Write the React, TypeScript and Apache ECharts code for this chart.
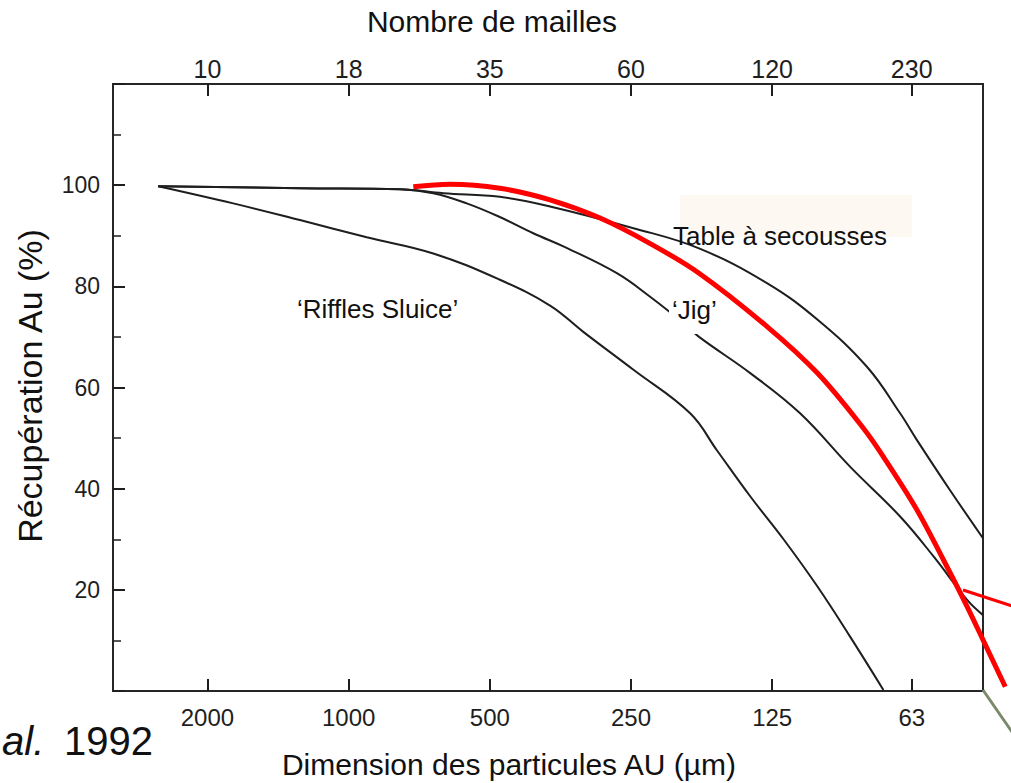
import React, { useEffect, useRef } from "react";
import * as echarts from "echarts";

// Particle size axis (µm), drawn on a log2 scale, reversed (coarse on the left)
const refSize = 2000;
const axisMinSize = 3180;
const axisMaxSize = 44.4;
const sizeTicks = [2000, 1000, 500, 250, 125, 63];
const sizeTickLabels = ["2000", "1000", "500", "250", "125", "63"];
const meshTickLabels = ["10", "18", "35", "60", "120", "230"];

// Recovery (%) axis
const recoveryMin = 0;
const recoveryMax = 120;
const recoveryStep = 20;

// 'Riffles Sluice'
const rifflesSize = [2547, 1762, 1270, 915, 660, 476, 372, 316, 247, 187, 164, 139, 118, 100, 85.2, 72.4];
const rifflesRec = [99.8, 96.4, 93.1, 89.7, 86.5, 81.3, 76.2, 71.0, 63.5, 54.9, 47.6, 38.4, 29.9, 20.6, 10.7, 0.2];

// 'Jig'
const jigSize = [2547, 1270, 777, 660, 560, 476, 404, 343, 268, 228, 193, 179, 139, 109, 85.2, 66.7, 56.6, 48.0, 44.4];
const jigRec = [99.8, 99.4, 99.2, 98.4, 96.4, 93.7, 90.5, 87.6, 82.6, 78.0, 72.7, 70.0, 62.8, 54.9, 44.3, 34.5, 26.6, 18.0, 15.0];

// Table à secousses
const tableSize = [2547, 1270, 777, 628, 476, 372, 247, 179, 128, 100, 78.5, 66.7, 61.4, 52.2, 44.4];
const tableRec = [99.8, 99.4, 99.2, 98.4, 97.7, 95.8, 91.5, 87.5, 80.6, 73.4, 64.1, 54.9, 49.6, 39.7, 30.2];

// Red overlay curve (runs past the right edge of the frame)
const redSize = [728, 608, 476, 372, 291, 228, 179, 128, 100, 79.8, 72.4, 61.4, 53.9, 48.0, 44.4, 39.8];
const redRec = [99.7, 100.2, 99.4, 97.1, 93.5, 88.5, 82.6, 72.0, 62.8, 51.9, 46.3, 35.8, 25.9, 16.7, 10.1, 0.85];

const toAxis = (s: number) => Math.log2(refSize / s);
const pairs = (sizes: number[], recs: number[]) => sizes.map((s, i) => [toAxis(s), recs[i]]);

const FONT = "'Liberation Sans', Arial, Helvetica, sans-serif";
const INK = "#1e1e1e";

export default function App() {
  const ref = useRef<HTMLDivElement>(null);

  useEffect(() => {
    if (!ref.current) return;
    const chart = echarts.init(ref.current, undefined, { renderer: "svg" });
    const tickPos = sizeTicks.map(toAxis);
    const labelFor = (labels: string[]) => (v: number) => {
      let best = 0;
      tickPos.forEach((p, i) => {
        if (Math.abs(p - v) < Math.abs(tickPos[best] - v)) best = i;
      });
      return labels[best];
    };

    const gridLeft = 113;
    const gridRight = 28;
    const chartW = 1011;
    const plotW = chartW - gridLeft - gridRight;
    const xMin = toAxis(axisMinSize);
    const xMax = toAxis(axisMaxSize);
    // overlay grid reaching the page edge, same scale, for the red curve overflow
    const xMaxWide = xMin + ((xMax - xMin) * (chartW - gridLeft)) / plotW;

    const baseX = {
      type: "value",
      gridIndex: 0,
      min: xMin,
      max: xMax,
      axisLine: { show: false, onZero: false },
      splitLine: { show: false },
      axisTick: { show: true, inside: true, length: 12, customValues: tickPos, lineStyle: { color: INK, width: 2 } },
    };

    const lineSeries = (name: string, data: number[][]) => ({
      name,
      type: "line",
      xAxisIndex: 0,
      yAxisIndex: 0,
      data,
      showSymbol: false,
      smooth: 0.4,
      lineStyle: { color: INK, width: 2 },
      z: 2,
    });

    chart.setOption({
      animation: false,
      backgroundColor: "#ffffff",
      grid: [
        {
          left: gridLeft,
          right: gridRight,
          top: 84,
          bottom: 92,
          show: true,
          borderColor: "#262626",
          borderWidth: 2,
          outerBoundsMode: "none",
        },
        {
          left: gridLeft,
          right: 0,
          top: 84,
          bottom: 92,
          show: false,
          outerBoundsMode: "none",
        },
      ],
      xAxis: [
        {
          ...baseX,
          position: "bottom",
          axisLabel: {
            customValues: tickPos,
            formatter: labelFor(sizeTickLabels),
            margin: 14,
            fontSize: 24,
            color: INK,
            fontFamily: FONT,
          },
        },
        {
          ...baseX,
          position: "top",
          axisLabel: {
            customValues: tickPos,
            formatter: labelFor(meshTickLabels),
            margin: 3,
            fontSize: 25,
            color: INK,
            fontFamily: FONT,
          },
        },
        {
          type: "value",
          gridIndex: 1,
          min: xMin,
          max: xMaxWide,
          show: false,
        },
      ],
      yAxis: [
        {
          type: "value",
          gridIndex: 0,
          min: recoveryMin,
          max: recoveryMax,
          interval: recoveryStep,
          axisLine: { show: false, onZero: false },
          splitLine: { show: false },
          axisTick: { show: true, inside: true, length: 12, lineStyle: { color: INK, width: 2 } },
          minorTick: { show: true, splitNumber: 2, length: 8, lineStyle: { color: INK, width: 1.5 } },
          axisLabel: {
            formatter: (v: number) => (v <= recoveryMin || v >= recoveryMax ? "" : String(v)),
            margin: 13,
            fontSize: 23,
            color: INK,
            fontFamily: FONT,
          },
        },
        {
          type: "value",
          gridIndex: 1,
          min: recoveryMin,
          max: recoveryMax,
          show: false,
        },
      ],
      series: [
        lineSeries("Riffles Sluice", pairs(rifflesSize, rifflesRec)),
        lineSeries("Jig", pairs(jigSize, jigRec)),
        lineSeries("Table à secousses", pairs(tableSize, tableRec)),
        {
          name: "Courbe rouge",
          type: "line",
          xAxisIndex: 2,
          yAxisIndex: 1,
          data: pairs(redSize, redRec),
          showSymbol: false,
          smooth: 0.35,
          lineStyle: { color: "#ff0000", width: 5 },
          z: 5,
        },
      ],
      graphic: [
        { type: "rect", z: 1, shape: { x: 680, y: 195, width: 232, height: 42 }, style: { fill: "#fdf8f2" } },
        { type: "rect", z: 3, shape: { x: 669, y: 297, width: 50, height: 37 }, style: { fill: "#ffffff" } },
        {
          type: "text", z: 6, x: 492, y: 21,
          style: { text: "Nombre de mailles", fontSize: 30, fontFamily: FONT, fill: "#111", textAlign: "center", textVerticalAlign: "middle" },
        },
        {
          type: "text", z: 6, x: 509, y: 764,
          style: { text: "Dimension des particules AU (µm)", fontSize: 30, fontFamily: FONT, fill: "#111", textAlign: "center", textVerticalAlign: "middle" },
        },
        {
          type: "text", z: 6, x: 30, y: 386, rotation: Math.PI / 2,
          style: { text: "Récupération Au (%)", fontSize: 34, fontFamily: FONT, fill: "#111", textAlign: "center", textVerticalAlign: "middle" },
        },
        {
          type: "text", z: 6, x: 297, y: 309,
          style: { text: "‘Riffles Sluice’", fontSize: 26, fontFamily: FONT, fill: "#111", textAlign: "left", textVerticalAlign: "middle" },
        },
        {
          type: "text", z: 6, x: 673, y: 236,
          style: { text: "Table à secousses", fontSize: 26, fontFamily: FONT, fill: "#111", textAlign: "left", textVerticalAlign: "middle" },
        },
        {
          type: "text", z: 6, x: 672, y: 310,
          style: { text: "‘Jig’", fontSize: 26, fontFamily: FONT, fill: "#111", textAlign: "left", textVerticalAlign: "middle" },
        },
        {
          type: "text", z: 6, x: 2, y: 741,
          style: { text: "al.", fontSize: 40, fontStyle: "italic", fontFamily: FONT, fill: "#111", textAlign: "left", textVerticalAlign: "middle" },
        },
        {
          type: "text", z: 6, x: 64, y: 741,
          style: { text: "1992", fontSize: 40, fontFamily: FONT, fill: "#111", textAlign: "left", textVerticalAlign: "middle" },
        },
        { type: "line", z: 6, shape: { x1: 963, y1: 590, x2: 1012, y2: 606 }, style: { stroke: "#ff0000", lineWidth: 3 } },
        { type: "line", z: 6, shape: { x1: 983, y1: 690, x2: 1012, y2: 732 }, style: { stroke: "#7b8a6b", lineWidth: 3 } },
      ],
    });

    return () => chart.dispose();
  }, []);

  return (
    <div
      ref={ref}
      style={{ position: "fixed", left: 0, top: 0, width: 1011, height: 783, background: "#fff" }}
    />
  );
}
